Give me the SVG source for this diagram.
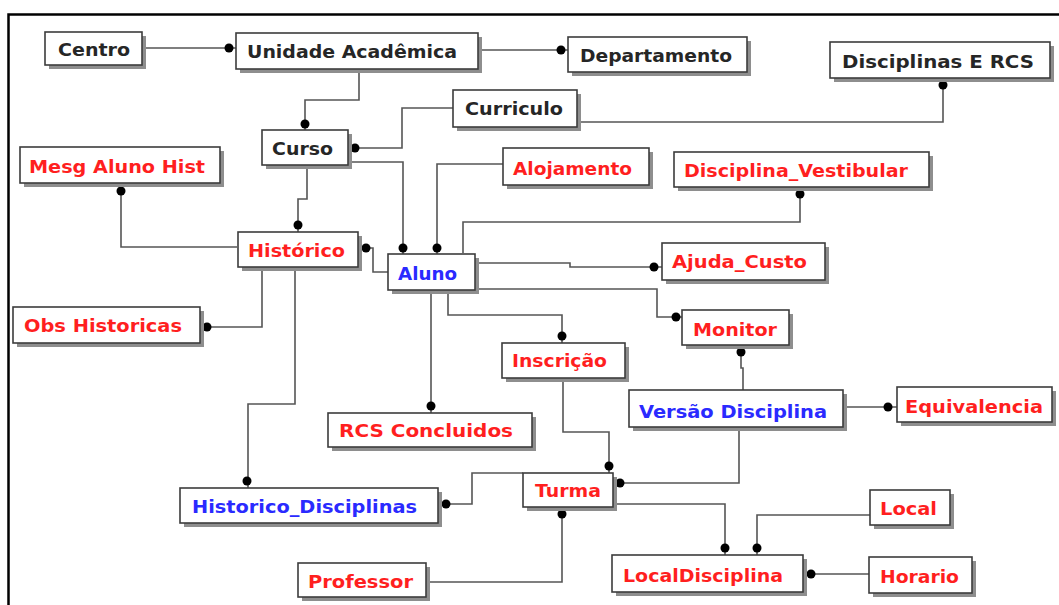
<svg xmlns="http://www.w3.org/2000/svg" width="1059" height="605" viewBox="0 0 1059 605">
  <style>
    .shadow { fill: #8e8e8e; }
    .box { fill: #ffffff; stroke: #3c3c3c; stroke-width: 1.6; }
    .lbl { font-family: "DejaVu Sans", "Liberation Sans", sans-serif; font-weight: bold; font-size: 18px; }
    .k { fill: #262626; }
    .r { fill: #ff1f1f; }
    .b { fill: #2a2aff; }
    .wire { fill: none; stroke: #555555; stroke-width: 1.6; }
    .dot { fill: #000000; }
  </style>
  <rect width="1059" height="605" fill="#ffffff"/>
  <!-- outer frame -->
  <path d="M8.5,610 V14.5 H1065" fill="none" stroke="#000" stroke-width="2.5"/>

  <g id="connectors">
    <path class="wire" d="M142,48 H236"/><circle class="dot" cx="229" cy="48" r="4.5"/>
    <path class="wire" d="M478,50 H568"/><circle class="dot" cx="561" cy="50" r="4.5"/>
    <path class="wire" d="M359,69 V100 H305 V130"/><circle class="dot" cx="305" cy="124" r="4.5"/>
    <path class="wire" d="M453,108 H402 V148 H348"/><circle class="dot" cx="355" cy="148" r="4.5"/>
    <path class="wire" d="M577,122 H943 V78"/><circle class="dot" cx="943" cy="85" r="4.5"/>
    <path class="wire" d="M348,162 H403 V255"/><circle class="dot" cx="403" cy="248" r="4.5"/>
    <path class="wire" d="M503,164 H437 V255"/><circle class="dot" cx="437" cy="248" r="4.5"/>
    <path class="wire" d="M307,166 V199 H298 V232"/><circle class="dot" cx="298" cy="225" r="4.5"/>
    <path class="wire" d="M121,183 V247 H237"/><circle class="dot" cx="121" cy="191" r="4.5"/>
    <path class="wire" d="M358,248 H373 V272 H388"/><circle class="dot" cx="366" cy="248" r="4.5"/>
    <path class="wire" d="M262,267 V327 H200"/><circle class="dot" cx="207" cy="327" r="4.5"/>
    <path class="wire" d="M295,267 V404 H248 V488"/><circle class="dot" cx="247" cy="481" r="4.5"/>
    <path class="wire" d="M463,253 V222 H800 V187"/><circle class="dot" cx="800" cy="194" r="4.5"/>
    <path class="wire" d="M475,263 H570 V267 H662"/><circle class="dot" cx="654" cy="267" r="4.5"/>
    <path class="wire" d="M475,289 H657 V317 H682"/><circle class="dot" cx="676" cy="317" r="4.5"/>
    <path class="wire" d="M448,290 V315 H562 V343"/><circle class="dot" cx="562" cy="336" r="4.5"/>
    <path class="wire" d="M431,290 V413"/><circle class="dot" cx="431" cy="406" r="4.5"/>
    <path class="wire" d="M743,390 V368 H741 V345"/><circle class="dot" cx="741" cy="352" r="4.5"/>
    <path class="wire" d="M843,407 H897"/><circle class="dot" cx="888" cy="407" r="4.5"/>
    <path class="wire" d="M563,378 V432 H609 V473"/><circle class="dot" cx="609" cy="466" r="4.5"/>
    <path class="wire" d="M739,427 V483 H613"/><circle class="dot" cx="620" cy="483" r="4.5"/>
    <path class="wire" d="M523,473 H472 V504 H438"/><circle class="dot" cx="446" cy="504" r="4.5"/>
    <path class="wire" d="M426,582 H562 V507"/><circle class="dot" cx="562" cy="514" r="4.5"/>
    <path class="wire" d="M613,504 H725 V555"/><circle class="dot" cx="725" cy="548" r="4.5"/>
    <path class="wire" d="M870,515 H757 V555"/><circle class="dot" cx="757" cy="548" r="4.5"/>
    <path class="wire" d="M869,574 H803"/><circle class="dot" cx="811" cy="574" r="4.5"/>
  </g>

  <g id="centro">
    <rect class="shadow" x="49" y="36" width="97" height="33"/>
    <rect class="box" x="45" y="32" width="97" height="33"/>
    <text class="lbl k" x="58" y="56" textLength="72" lengthAdjust="spacingAndGlyphs">Centro</text>
  </g>
  <g id="unidade-academica">
    <rect class="shadow" x="240" y="37" width="242" height="36"/>
    <rect class="box" x="236" y="33" width="242" height="36"/>
    <text class="lbl k" x="247" y="58" textLength="210" lengthAdjust="spacingAndGlyphs">Unidade Acadêmica</text>
  </g>
  <g id="departamento">
    <rect class="shadow" x="572" y="41" width="179" height="35"/>
    <rect class="box" x="568" y="37" width="179" height="35"/>
    <text class="lbl k" x="580" y="62" textLength="152" lengthAdjust="spacingAndGlyphs">Departamento</text>
  </g>
  <g id="disciplinas-e-rcs">
    <rect class="shadow" x="834" y="46" width="220" height="36"/>
    <rect class="box" x="830" y="42" width="220" height="36"/>
    <text class="lbl k" x="842" y="68" textLength="192" lengthAdjust="spacingAndGlyphs">Disciplinas E RCS</text>
  </g>
  <g id="curriculo">
    <rect class="shadow" x="457" y="94" width="124" height="37"/>
    <rect class="box" x="453" y="90" width="124" height="37"/>
    <text class="lbl k" x="465" y="115" textLength="98" lengthAdjust="spacingAndGlyphs">Curriculo</text>
  </g>
  <g id="curso">
    <rect class="shadow" x="266" y="134" width="86" height="35"/>
    <rect class="box" x="262" y="130" width="86" height="35"/>
    <text class="lbl k" x="272" y="155" textLength="61" lengthAdjust="spacingAndGlyphs">Curso</text>
  </g>
  <g id="mesg-aluno-hist">
    <rect class="shadow" x="24" y="151" width="200" height="36"/>
    <rect class="box" x="20" y="147" width="200" height="36"/>
    <text class="lbl r" x="29" y="173" textLength="176" lengthAdjust="spacingAndGlyphs">Mesg Aluno Hist</text>
  </g>
  <g id="alojamento">
    <rect class="shadow" x="507" y="152" width="146" height="37"/>
    <rect class="box" x="503" y="148" width="146" height="37"/>
    <text class="lbl r" x="513" y="175" textLength="119" lengthAdjust="spacingAndGlyphs">Alojamento</text>
  </g>
  <g id="disciplina-vestibular">
    <rect class="shadow" x="678" y="156" width="255" height="35"/>
    <rect class="box" x="674" y="152" width="255" height="35"/>
    <text class="lbl r" x="684" y="177" textLength="224" lengthAdjust="spacingAndGlyphs">Disciplina_Vestibular</text>
  </g>
  <g id="historico">
    <rect class="shadow" x="242" y="236" width="120" height="35"/>
    <rect class="box" x="238" y="232" width="120" height="35"/>
    <text class="lbl r" x="248" y="257" textLength="97" lengthAdjust="spacingAndGlyphs">Histórico</text>
  </g>
  <g id="aluno">
    <rect class="shadow" x="392" y="258" width="87" height="36"/>
    <rect class="box" x="388" y="254" width="87" height="36"/>
    <text class="lbl b" x="398" y="280" textLength="59" lengthAdjust="spacingAndGlyphs">Aluno</text>
  </g>
  <g id="ajuda-custo">
    <rect class="shadow" x="666" y="247" width="163" height="37"/>
    <rect class="box" x="662" y="243" width="163" height="37"/>
    <text class="lbl r" x="672" y="268" textLength="135" lengthAdjust="spacingAndGlyphs">Ajuda_Custo</text>
  </g>
  <g id="obs-historicas">
    <rect class="shadow" x="17" y="311" width="187" height="36"/>
    <rect class="box" x="13" y="307" width="187" height="36"/>
    <text class="lbl r" x="24" y="332" textLength="158" lengthAdjust="spacingAndGlyphs">Obs Historicas</text>
  </g>
  <g id="monitor">
    <rect class="shadow" x="686" y="314" width="107" height="35"/>
    <rect class="box" x="682" y="310" width="107" height="35"/>
    <text class="lbl r" x="693" y="336" textLength="84" lengthAdjust="spacingAndGlyphs">Monitor</text>
  </g>
  <g id="inscricao">
    <rect class="shadow" x="506" y="347" width="123" height="35"/>
    <rect class="box" x="502" y="343" width="123" height="35"/>
    <text class="lbl r" x="512" y="367" textLength="95" lengthAdjust="spacingAndGlyphs">Inscrição</text>
  </g>
  <g id="versao-disciplina">
    <rect class="shadow" x="633" y="394" width="214" height="37"/>
    <rect class="box" x="629" y="390" width="214" height="37"/>
    <text class="lbl b" x="639" y="418" textLength="188" lengthAdjust="spacingAndGlyphs">Versão Disciplina</text>
  </g>
  <g id="equivalencia">
    <rect class="shadow" x="901" y="391" width="155" height="35"/>
    <rect class="box" x="897" y="387" width="155" height="35"/>
    <text class="lbl r" x="905" y="413" textLength="138" lengthAdjust="spacingAndGlyphs">Equivalencia</text>
  </g>
  <g id="rcs-concluidos">
    <rect class="shadow" x="332" y="417" width="204" height="34"/>
    <rect class="box" x="328" y="413" width="204" height="34"/>
    <text class="lbl r" x="339" y="437" textLength="174" lengthAdjust="spacingAndGlyphs">RCS Concluidos</text>
  </g>
  <g id="historico-disciplinas">
    <rect class="shadow" x="184" y="492" width="258" height="35"/>
    <rect class="box" x="180" y="488" width="258" height="35"/>
    <text class="lbl b" x="192" y="513" textLength="225" lengthAdjust="spacingAndGlyphs">Historico_Disciplinas</text>
  </g>
  <g id="turma">
    <rect class="shadow" x="527" y="477" width="90" height="34"/>
    <rect class="box" x="523" y="473" width="90" height="34"/>
    <text class="lbl r" x="535" y="497" textLength="66" lengthAdjust="spacingAndGlyphs">Turma</text>
  </g>
  <g id="professor">
    <rect class="shadow" x="302" y="567" width="128" height="34"/>
    <rect class="box" x="298" y="563" width="128" height="34"/>
    <text class="lbl r" x="308" y="588" textLength="105" lengthAdjust="spacingAndGlyphs">Professor</text>
  </g>
  <g id="local-disciplina">
    <rect class="shadow" x="616" y="559" width="191" height="37"/>
    <rect class="box" x="612" y="555" width="191" height="37"/>
    <text class="lbl r" x="623" y="582" textLength="160" lengthAdjust="spacingAndGlyphs">LocalDisciplina</text>
  </g>
  <g id="local">
    <rect class="shadow" x="874" y="494" width="80" height="35"/>
    <rect class="box" x="870" y="490" width="80" height="35"/>
    <text class="lbl r" x="880" y="515" textLength="57" lengthAdjust="spacingAndGlyphs">Local</text>
  </g>
  <g id="horario">
    <rect class="shadow" x="873" y="561" width="103" height="36"/>
    <rect class="box" x="869" y="557" width="103" height="36"/>
    <text class="lbl r" x="880" y="583" textLength="79" lengthAdjust="spacingAndGlyphs">Horario</text>
  </g>
</svg>
